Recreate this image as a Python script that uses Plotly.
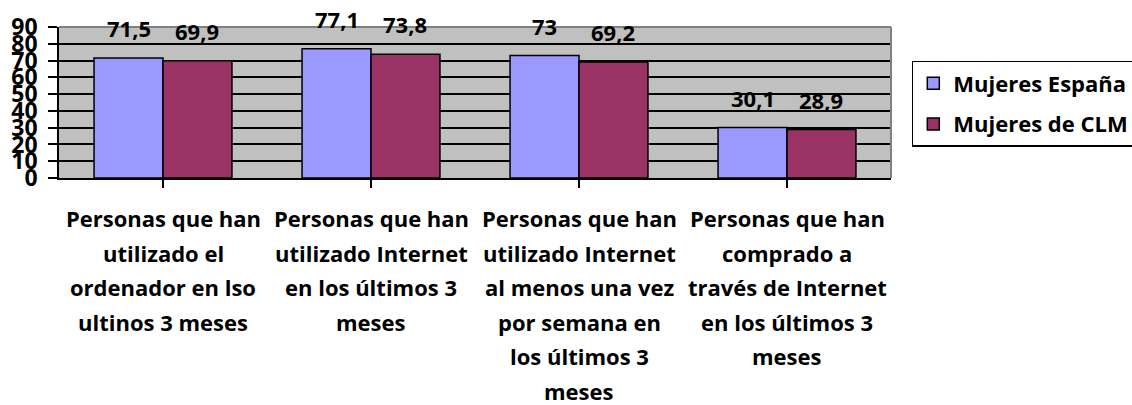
import plotly.graph_objects as go

categories = [
    "Personas que han\nutilizado el\nordenador en lso\nultinos 3 meses",
    "Personas que han\nutilizado Internet\nen los últimos 3\nmeses",
    "Personas que han\nutilizado Internet\nal menos una vez\npor semana en\nlos últimos 3\nmeses",
    "Personas que han\ncomprado a\ntravés de Internet\nen los últimos 3\nmeses",
]
series_names = ["Mujeres España", "Mujeres de CLM"]
espana = [71.5, 77.1, 73, 30.1]
clm = [69.9, 73.8, 69.2, 28.9]
label_espana = ["71,5", "77,1", "73", "30,1"]
label_clm = ["69,9", "73,8", "69,2", "28,9"]
y_ticks = [0, 10, 20, 30, 40, 50, 60, 70, 80, 90]

FONT = "Open Sans"
cat_ids = list(range(len(categories)))

fig = go.Figure()
for name, vals, color, grp in [
    (series_names[0], espana, "#9999FF", "a"),
    (series_names[1], clm, "#993366", "b"),
]:
    fig.add_trace(go.Bar(
        x=cat_ids, y=vals, name="<b>" + name + "</b>", legendgroup=grp,
        marker=dict(color=color, line=dict(color="black", width=1.5)),
    ))

annotations = []
for i in cat_ids:
    for offset, vals, labs in [(-0.165, espana, label_espana), (0.165, clm, label_clm)]:
        annotations.append(dict(
            x=i + offset, y=vals[i], xref="x", yref="y", text="<b>" + labs[i] + "</b>",
            showarrow=False, yanchor="middle", yshift=30,
            font=dict(family=FONT, size=22, color="black"),
        ))
for i, cat in enumerate(categories):
    for j, line in enumerate(cat.split("\n")):
        annotations.append(dict(
            x=i, y=0, xref="x", yref="y", text="<b>" + line + "</b>", showarrow=False,
            yanchor="middle", yshift=-(40 + 34.6 * j),
            font=dict(family=FONT, size=22, color="black"),
        ))

fig.update_layout(
    width=1132, height=405,
    margin=dict(l=59, r=241, t=27, b=227, autoexpand=False),
    paper_bgcolor="white", plot_bgcolor="#C0C0C0",
    barmode="group", bargap=0.337, bargroupgap=0,
    font=dict(family=FONT, size=22, color="black"),
    showlegend=True,
    legend=dict(
        x=1.025, y=0.775, xanchor="left", yanchor="top",
        bgcolor="white", bordercolor="black", borderwidth=1.5,
        font=dict(family=FONT, size=22, color="black"),
        traceorder="grouped", tracegroupgap=9,
    ),
    annotations=annotations,
    xaxis=dict(
        range=[-0.5, 3.5], tickvals=cat_ids, showticklabels=False, automargin=False,
        ticks="outside", tickson="boundaries", ticklen=8, tickwidth=1.5,
        tickcolor="black", showline=True, linecolor="black", linewidth=1.5,
        showgrid=False, zeroline=False,
    ),
    yaxis=dict(
        range=[0, 90], tickvals=y_ticks, ticktext=["<b>%d</b>" % v for v in y_ticks],
        ticks="outside", ticklen=9, automargin=False,
        tickwidth=1.5, tickcolor="black", showline=True, linecolor="black",
        linewidth=1.5, showgrid=True, gridcolor="black", gridwidth=1.5,
        zeroline=False, ticklabelstandoff=6,
        tickfont=dict(family=FONT, size=23, color="black"),
    ),
    shapes=[
        dict(type="line", xref="paper", yref="paper", x0=0, x1=1, y0=1, y1=1,
             line=dict(color="#808080", width=2), layer="above"),
        dict(type="line", xref="paper", yref="paper", x0=1, x1=1, y0=0, y1=1,
             line=dict(color="#808080", width=2), layer="above"),
    ],
)

fig.write_html(
    "out.html",
    config={"displayModeBar": False},
    post_script="document.body.style.margin='0';document.body.style.overflow='hidden';",
)
